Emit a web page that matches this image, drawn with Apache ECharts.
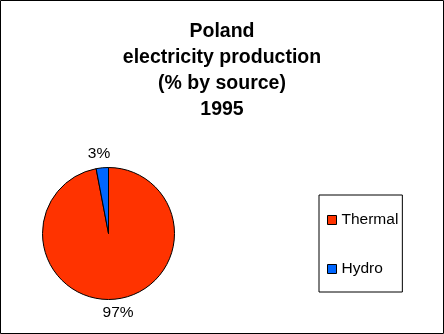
<!DOCTYPE html>
<html>
<head>
<meta charset="utf-8">
<script src="https://cdn.jsdelivr.net/npm/echarts@6/dist/echarts.min.js"></script>
<style>
html,body{margin:0;padding:0;background:#fff;}
#c{width:444px;height:334px;}
</style>
</head>
<body>
<div id="c"></div>
<script>
const titleLines = ['Poland', 'electricity production', '(% by source)', '1995'];
const categories = ['Thermal', 'Hydro'];
const values = [97, 3];
const colors = ['#FF3300', '#0066FF'];

const chart = echarts.init(document.getElementById('c'), null, {renderer: 'canvas'});
const font = '"Liberation Sans", Arial, sans-serif';
chart.setOption({
  animation: false,
  backgroundColor: '#fff',
  title: {
    text: titleLines.join('\n'),
    left: 217,
    top: 14,
    textAlign: 'center',
    textStyle: {fontFamily: font, fontSize: 19.5, fontWeight: 'bold', lineHeight: 26, color: '#000'}
  },
  legend: {
    orient: 'vertical',
    left: 319,
    top: 195,
    data: categories,
    icon: 'rect',
    itemWidth: 9,
    itemHeight: 9,
    itemGap: 33,
    itemStyle: {borderColor: '#000', borderWidth: 1},
    borderColor: '#000',
    borderWidth: 1,
    padding: [17, 4, 15, 8],
    textStyle: {fontFamily: font, fontSize: 15.5, color: '#000', padding: [0, 0, 0, 0]},
    itemTextGap: 5
  },
  graphic: [{
    type: 'rect', silent: true,
    shape: {x: 0.5, y: 0.5, width: 443, height: 333},
    style: {fill: 'none', stroke: '#000', lineWidth: 1}
  }],
  series: [{
    type: 'pie',
    center: [108.5, 233.5],
    radius: [0, 66],
    startAngle: 90,
    clockwise: true,
    data: categories.map((n, i) => ({name: n, value: values[i], itemStyle: {color: colors[i]}})),
    itemStyle: {borderColor: '#000', borderWidth: 1},
    label: {
      show: true,
      position: 'outside',
      formatter: p => Math.round(p.value) + '%',
      fontFamily: font,
      fontSize: 15.5,
      color: '#000'
    },
    labelLine: {show: false, length: 14, length2: 0},
    labelLayout: function (p) { return {align: 'center', dx: p.dataIndex === 0 ? -3 : 3}; },
    emphasis: {disabled: true}
  }]
});
</script>
</body>
</html>
